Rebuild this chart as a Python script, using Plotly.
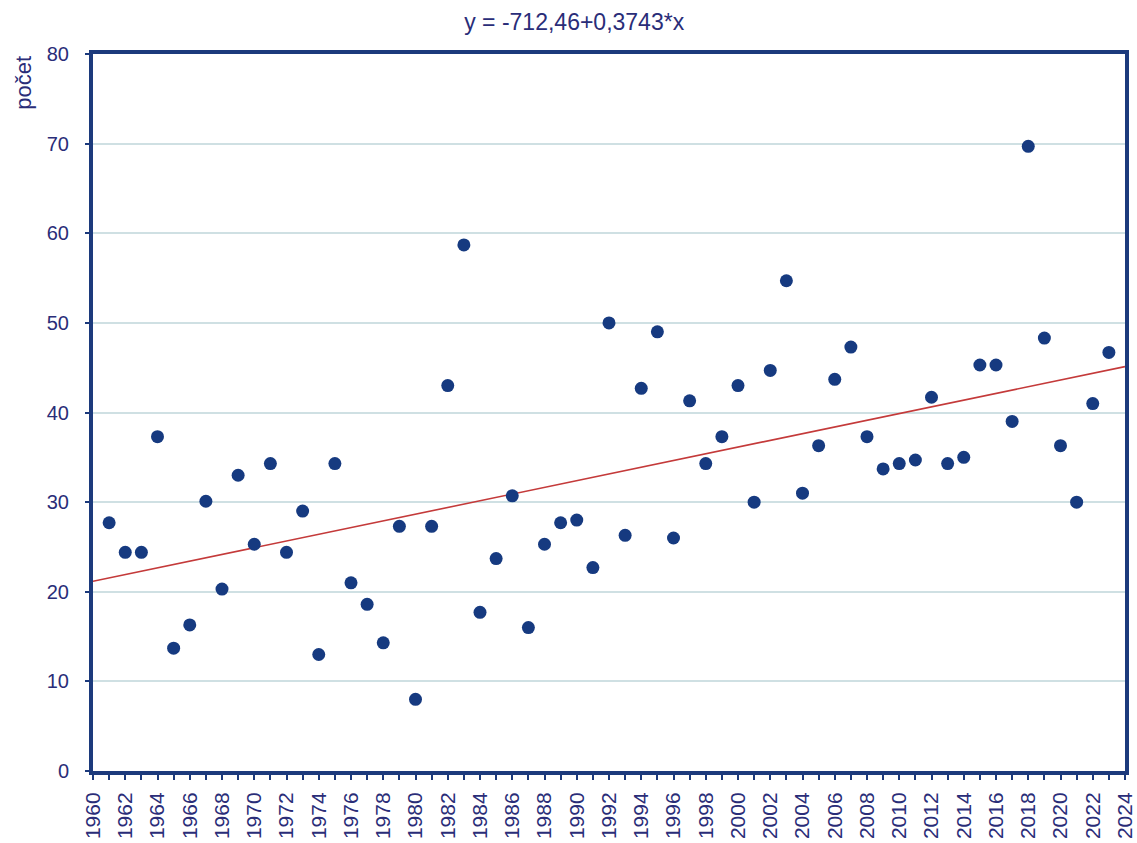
import plotly.graph_objects as go

years = list(range(1961, 2024))
counts = [27.7, 24.4, 24.4, 37.3, 13.7, 16.3, 30.1, 20.3, 33.0, 25.3,
          34.3, 24.4, 29.0, 13.0, 34.3, 21.0, 18.6, 14.3, 27.3, 8.0,
          27.3, 43.0, 58.7, 17.7, 23.7, 30.7, 16.0, 25.3, 27.7, 28.0,
          22.7, 50.0, 26.3, 42.7, 49.0, 26.0, 41.3, 34.3, 37.3, 43.0,
          30.0, 44.7, 54.7, 31.0, 36.3, 43.7, 47.3, 37.3, 33.7, 34.3,
          34.7, 41.7, 34.3, 35.0, 45.3, 45.3, 39.0, 69.7, 48.3, 36.3,
          30.0, 41.0, 46.7]

trend_intercept = -712.46
trend_slope = 0.3743
trend_x = [1960, 2024]
trend_y = [trend_intercept + trend_slope * x for x in trend_x]

x_tickvals = list(range(1960, 2025, 2))
x_ticktext = [str(v) for v in x_tickvals]
y_tickvals = list(range(0, 81, 10))

navy = "#1c3a7c"
textc = "#2a2d78"

fig = go.Figure()
fig.add_trace(go.Scatter(x=trend_x, y=trend_y, mode="lines",
                         line=dict(color="#c43a3a", width=1.6),
                         showlegend=False, hoverinfo="skip"))
fig.add_trace(go.Scatter(x=years, y=counts, mode="markers",
                         marker=dict(color="#163a80", size=13),
                         showlegend=False))

fig.update_layout(
    width=1137, height=843,
    margin=dict(l=93, r=12, t=54, b=72),
    paper_bgcolor="white", plot_bgcolor="white",
    font=dict(family="Liberation Sans, Arial, sans-serif", color=textc),
    title=dict(text="y = -712,46+0,3743*x", x=0.505, xanchor="center",
               y=0.974, yanchor="middle",
               font=dict(size=23, color=textc)),
    annotations=[dict(text="počet", textangle=-90, xref="paper", yref="paper",
                      x=-0.068, y=1.0, xanchor="center", yanchor="top",
                      showarrow=False, font=dict(size=22, color=textc))],
)
fig.update_xaxes(range=[1960, 2024], tickvals=x_tickvals, ticktext=x_ticktext,
                 tickangle=-90, tickfont=dict(size=21, color=textc),
                 ticks="outside", ticklen=5, tickwidth=2, tickcolor=navy,
                 ticklabelstandoff=4,
                 minor=dict(dtick=1, tick0=1960, ticks="outside", ticklen=5,
                            tickwidth=2, tickcolor=navy, showgrid=False),
                 showgrid=False, showline=True, linecolor=navy, linewidth=4,
                 mirror=True, zeroline=False, automargin=False)
fig.update_yaxes(range=[0, 80], tickvals=y_tickvals,
                 tickfont=dict(size=20, color=textc),
                 ticks="outside", ticklen=4, tickwidth=2, tickcolor=navy,
                 ticklabelstandoff=12,
                 showgrid=True, gridcolor="#cfe0e3", gridwidth=1.5,
                 showline=True, linecolor=navy, linewidth=4, mirror=True,
                 zeroline=False, automargin=False)

fig.write_html("out.html")
